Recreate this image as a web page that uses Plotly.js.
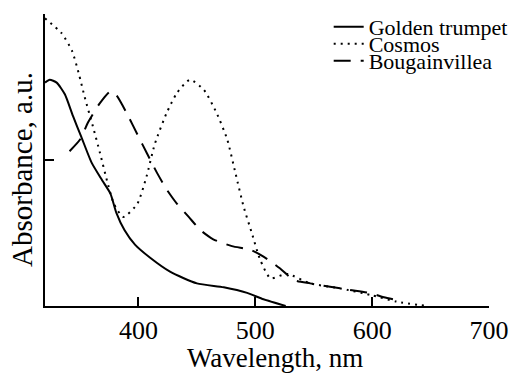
<!DOCTYPE html>
<html>
<head>
<meta charset="utf-8">
<script src="https://cdn.plot.ly/plotly-3.0.1.min.js"></script>
<style>html,body{margin:0;padding:0;background:#fff;}#chart{width:510px;height:375px;}</style>
</head>
<body>
<div id="chart"></div>
<script>
// Wavelength (nm) and absorbance (a.u.)
const goldenX = [320, 324, 330, 337, 344, 351, 360, 369, 376, 381, 388, 397, 410, 427, 450, 473, 493, 507, 526];
const goldenY = [1.53, 1.55, 1.53, 1.45, 1.30, 1.16, 0.98, 0.86, 0.77, 0.64, 0.52, 0.42, 0.33, 0.235, 0.155, 0.128, 0.09, 0.046, 0];

const cosmosX = [320, 334, 343, 349, 354, 361, 367, 373, 379, 387, 399, 407, 414, 424, 433, 444, 456, 467, 476, 483, 490, 497, 504, 513, 527, 547, 573, 599, 621, 647];
const cosmosY = [1.97, 1.87, 1.75, 1.59, 1.43, 1.23, 1.05, 0.86, 0.70, 0.61, 0.70, 0.89, 1.11, 1.32, 1.46, 1.55, 1.48, 1.32, 1.14, 0.91, 0.68, 0.50, 0.32, 0.19, 0.22, 0.155, 0.12, 0.075, 0.03, 0];

const bougX = [341, 350, 357, 367, 376, 381, 390, 400, 407, 416, 424, 433, 443, 453, 464, 480, 496, 507, 521, 533, 547, 564, 581, 599, 610, 624];
const bougY = [1.06, 1.14, 1.26, 1.39, 1.47, 1.445, 1.32, 1.16, 1.05, 0.91, 0.80, 0.70, 0.61, 0.52, 0.457, 0.41, 0.384, 0.338, 0.258, 0.178, 0.155, 0.132, 0.11, 0.087, 0.06, 0.036];

const seriesNames = ["Golden trumpet", "Cosmos", "Bougainvillea"];
const xTickVals = [400, 500, 600, 700];
const xTickText = ["400", "500", "600", "700"];
const yTickVals = [1];
const xTitle = "Wavelength, nm";
const yTitle = "Absorbance, a.u.";

const FONT = "Liberation Serif, Times New Roman, serif";

const traces = [
  {x: goldenX, y: goldenY, name: seriesNames[0], mode: "lines", legend: "legend",
   line: {color: "#000", width: 2, shape: "spline", smoothing: 0.6}},
  {x: cosmosX, y: cosmosY, name: seriesNames[1], mode: "lines", legend: "legend2",
   line: {color: "#000", width: 2, dash: "2px,5px", shape: "spline", smoothing: 0.6}},
  {x: bougX, y: bougY, name: seriesNames[2], mode: "lines", legend: "legend3",
   line: {color: "#000", width: 2, dash: "17px,10px", shape: "spline", smoothing: 0.6}}
];

const legendBase = {xref: "container", yref: "container", xanchor: "left", yanchor: "top",
  bgcolor: "rgba(0,0,0,0)", borderwidth: 0,
  font: {family: FONT, size: 22, color: "#000"}, itemwidth: 30};

const layout = {
  width: 510, height: 375,
  margin: {l: 45, r: 21, t: 14, b: 69, autoexpand: false},
  paper_bgcolor: "#fff", plot_bgcolor: "#fff",
  font: {family: FONT, color: "#000"},
  showlegend: true,
  legend: Object.assign({}, legendBase, {x: 0.6445, y: 0.984}),
  legend2: Object.assign({}, legendBase, {x: 0.6445, y: 0.9387}),
  legend3: Object.assign({}, legendBase, {x: 0.6445, y: 0.8933}),
  xaxis: {
    range: [320, 700], showgrid: false, zeroline: false, automargin: false,
    showline: true, linecolor: "#000", linewidth: 2,
    ticks: "inside", ticklen: 9, tickwidth: 2, tickcolor: "#000",
    tickvals: xTickVals, ticktext: xTickText,
    tickfont: {family: FONT, size: 26, color: "#000"}
  },
  yaxis: {
    range: [0, 2], showgrid: false, zeroline: false, automargin: false,
    showline: true, linecolor: "#000", linewidth: 2,
    ticks: "inside", ticklen: 9, tickwidth: 2, tickcolor: "#000",
    tickvals: yTickVals, showticklabels: false
  },
  annotations: [
    {text: xTitle, xref: "paper", yref: "paper", x: 0.519, y: -0.2345,
     xanchor: "center", yanchor: "bottom", showarrow: false, borderpad: 0,
     font: {family: FONT, size: 27, color: "#000"}},
    {text: yTitle, xref: "paper", yref: "paper", x: -0.0518, y: 0.466, textangle: -90,
     xanchor: "center", yanchor: "middle", showarrow: false,
     font: {family: FONT, size: 29, color: "#000"}}
  ]
};

Plotly.newPlot("chart", traces, layout, {staticPlot: true, displayModeBar: false});
</script>
</body>
</html>
